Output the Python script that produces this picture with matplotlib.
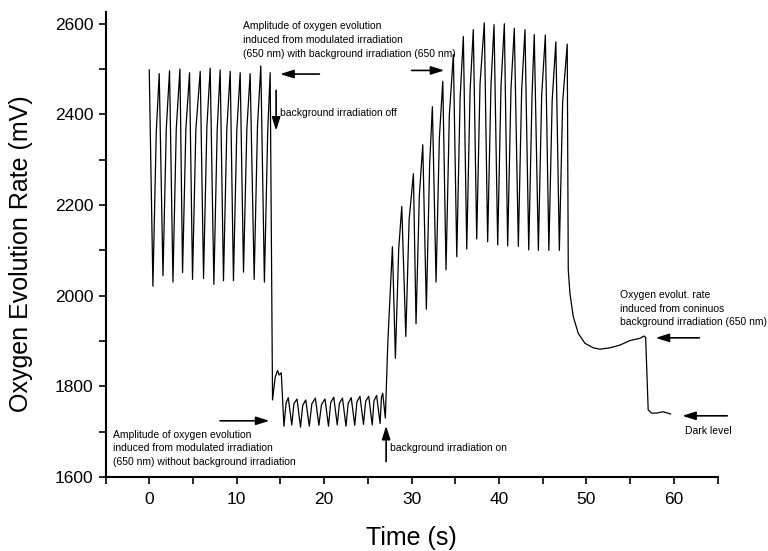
import numpy as np
import matplotlib.pyplot as plt
from matplotlib.ticker import MultipleLocator

plt.rcParams['font.family'] = ['Liberation Sans', 'DejaVu Sans']

# segment 1: modulated light + background light
s1_peak_t = [0.0, 1.14, 2.32, 3.51, 4.61, 5.83, 6.97, 8.11, 9.26, 10.4, 11.54, 12.76, 13.83]
s1_peak_v = [2498, 2490, 2496, 2500, 2492, 2495, 2502, 2498, 2495, 2492, 2490, 2507, 2492]
s1_trough_t = [0.42, 1.57, 2.71, 3.81, 4.95, 6.21, 7.39, 8.49, 9.63, 10.78, 12.0, 13.17]
s1_trough_v = [2021, 2044, 2030, 2051, 2036, 2038, 2025, 2033, 2033, 2052, 2036, 2030]
s1_knee_t = [0.80, 1.95, 3.09, 4.19, 5.33, 6.59, 7.77, 8.87, 10.01, 11.16, 12.38, 13.55]
s1_knee_v = [2359, 2369, 2368, 2369, 2366, 2372, 2366, 2366, 2363, 2367, 2375, 2363]

# background off: fast drop and short plateau
off_t = [14.1, 14.4, 14.67, 14.85, 15.1]
off_v = [1770, 1820, 1835, 1825, 1830]

# segment 2: modulated light only
s2_trough_t = [15.4, 16.3, 17.3, 18.3, 19.4, 20.5, 21.5, 22.5, 23.5, 24.5, 25.5, 26.4, 27.0]
s2_trough_v = [1712, 1715, 1710, 1712, 1714, 1712, 1715, 1712, 1714, 1716, 1715, 1718, 1730]
s2_knee_t = [15.65, 16.55, 17.55, 18.6, 19.7, 20.75, 21.75, 22.75, 23.75, 24.75, 25.7, 26.55]
s2_knee_v = [1763, 1762, 1758, 1762, 1760, 1764, 1763, 1763, 1766, 1767, 1768, 1775]
s2_peak_t = [15.9, 16.9, 17.9, 19.0, 20.1, 21.1, 22.1, 23.1, 24.1, 25.1, 26.0, 26.7]
s2_peak_v = [1775, 1772, 1770, 1774, 1772, 1776, 1774, 1775, 1778, 1778, 1780, 1785]

# segment 3: background back on
s3_start_t = [27.28]
s3_start_v = [1895]
s3_peak_t = [27.81, 28.88, 30.21, 31.28, 32.38, 33.57, 34.78, 35.92, 37.06, 38.32,
             39.43, 40.61, 41.75, 42.97, 44.03, 45.3, 46.5, 47.8]
s3_peak_v = [2108, 2197, 2269, 2333, 2417, 2473, 2532, 2572, 2587, 2602,
             2598, 2600, 2590, 2587, 2576, 2575, 2560, 2555]
s3_trough_t = [28.15, 29.34, 30.51, 31.69, 32.8, 33.94, 35.17, 36.31, 37.45, 38.7,
               39.85, 40.99, 42.21, 43.4, 44.5, 45.7, 46.9]
s3_trough_v = [1862, 1910, 1938, 1970, 2030, 2057, 2086, 2103, 2125, 2119,
               2112, 2110, 2109, 2101, 2100, 2100, 2100]
s3_knee_t = [28.53, 29.72, 30.89, 32.07, 33.18, 34.32, 35.55, 36.69, 37.83, 39.08,
             40.23, 41.37, 42.59, 43.78, 44.88, 46.08, 47.28]
s3_knee_v = [2103, 2168, 2222, 2292, 2349, 2399, 2436, 2451, 2468, 2464,
             2463, 2456, 2453, 2443, 2442, 2431, 2428]

# modulated light off, continuous background, then dark
tail_t = [47.92, 48.11, 48.49, 49.06, 49.83, 50.78, 51.54, 52.69, 53.83, 54.97,
          56.11, 56.57, 56.77, 56.97, 57.06, 57.45, 58.02, 58.78, 59.62]
tail_v = [2057, 2005, 1954, 1917, 1895, 1885, 1882, 1885, 1891, 1901,
          1906, 1911, 1908, 1800, 1748, 1741, 1741, 1744, 1739]


def cycles(pt, pv, tt, tv, kt, kv):
    # peak -> trough -> knee -> next peak ...
    t, v = [], []
    for i in range(len(pt)):
        t.append(pt[i]); v.append(pv[i])
        if i < len(tt):
            t += [tt[i], kt[i]]
            v += [tv[i], kv[i]]
    return t, v


t1, v1 = cycles(s1_peak_t, s1_peak_v, s1_trough_t, s1_trough_v, s1_knee_t, s1_knee_v)
t3, v3 = cycles(s3_peak_t, s3_peak_v, s3_trough_t, s3_trough_v, s3_knee_t, s3_knee_v)
t2, v2 = [], []
for i in range(len(s2_trough_t)):
    t2.append(s2_trough_t[i]); v2.append(s2_trough_v[i])
    if i < len(s2_peak_t):
        t2 += [s2_knee_t[i], s2_peak_t[i]]
        v2 += [s2_knee_v[i], s2_peak_v[i]]

t = t1 + off_t + t2 + s3_start_t + t3 + tail_t
v = v1 + off_v + v2 + s3_start_v + v3 + tail_v

fig = plt.figure(figsize=(7.68, 5.51), dpi=100)
ax = fig.add_axes([0.1374, 0.1343, 0.797, 0.844])
ax.plot(t, v, color='black', linewidth=0.9)

ax.set_xlim(-5, 65)
ax.set_ylim(1600, 2626)
ax.xaxis.set_major_locator(MultipleLocator(10))
ax.xaxis.set_minor_locator(MultipleLocator(5))
ax.yaxis.set_major_locator(MultipleLocator(200))
ax.yaxis.set_minor_locator(MultipleLocator(100))
ax.tick_params(which='both', direction='out', length=5, width=1.2, labelsize=12.5)
ax.tick_params(axis='x', pad=6)
ax.spines['top'].set_visible(False)
ax.spines['right'].set_visible(False)
ax.spines['left'].set_linewidth(1.5)
ax.spines['bottom'].set_linewidth(1.5)
ax.set_xlabel('Time (s)', fontsize=18)
ax.set_ylabel('Oxygen Evolution Rate (mV)', fontsize=18)
ax.yaxis.set_label_coords(-0.118, 0.48)
ax.xaxis.set_label_coords(0.499, -0.105)

arw = dict(arrowstyle='-|>,head_length=0.8,head_width=0.25', color='black', lw=1.2,
           shrinkA=0, shrinkB=0)
fs = 7.5
ls = 1.45

ax.text(10.7, 2564, 'Amplitude of oxygen evolution\ninduced from modulated irradiation\n'
        '(650 nm) with background irradiation (650 nm)', fontsize=fs, va='center',
        linespacing=ls)
ax.annotate('', xy=(14.97, 2489), xytext=(19.46, 2489), arrowprops=arw)
ax.annotate('', xy=(33.75, 2497), xytext=(30.0, 2497), arrowprops=arw)
ax.annotate('', xy=(14.51, 2364), xytext=(14.51, 2453), arrowprops=arw)
ax.text(14.97, 2403, 'background irradiation off', fontsize=fs, va='center')

ax.text(-4.2, 1663, 'Amplitude of oxygen evolution\ninduced from modulated irradiation\n'
        '(650 nm) without background irradiation', fontsize=fs, va='center',
        linespacing=ls)
ax.annotate('', xy=(13.75, 1724), xytext=(8.1, 1724), arrowprops=arw)

ax.annotate('', xy=(27.09, 1713), xytext=(27.09, 1634), arrowprops=arw)
ax.text(27.54, 1663, 'background irradiation on', fontsize=fs, va='center')

ax.text(53.8, 1971, 'Oxygen evolut. rate\ninduced from coninuos\n'
        'background irradiation (650 nm)', fontsize=fs, va='center', linespacing=ls)
ax.annotate('', xy=(57.9, 1907), xytext=(62.9, 1907), arrowprops=arw)

ax.annotate('', xy=(60.95, 1735), xytext=(66.1, 1735), arrowprops=arw,
            annotation_clip=False)
ax.text(61.3, 1702, 'Dark level', fontsize=fs, va='center')

fig.savefig('out.png', dpi=100)
